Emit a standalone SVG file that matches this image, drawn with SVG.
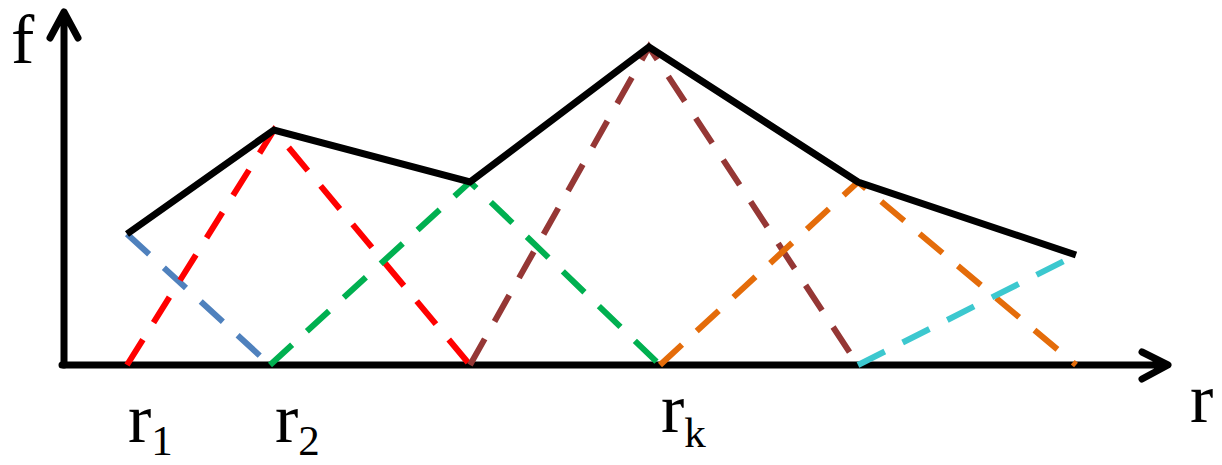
<svg xmlns="http://www.w3.org/2000/svg" width="1222" height="465" viewBox="0 0 1222 465">
<style>
.axis{stroke:#000;stroke-width:7;fill:none;stroke-linecap:round;stroke-linejoin:round}
.curve{stroke:#000;stroke-width:7;fill:none;stroke-linejoin:miter}
.d{stroke-width:6;fill:none;stroke-dasharray:30 20}
.lbl{font-family:"Liberation Serif","Times New Roman",serif;fill:#000}
.big{font-size:70px}
.sub{font-size:43px}
</style>
<rect width="1222" height="465" fill="#fff"/>
<g id="axes">
<path class="axis" d="M64,365 V12 M50,38 L64,12 L78,38"/>
<path class="axis" d="M62,365 H1166 M1142,352 L1168,365 L1142,379"/>
</g>
<g id="connectors">
<path class="d" stroke="#4F81BD" d="M127,234 L270,365"/>
<path class="d" stroke="#FF0000" d="M127,365 L274,130 L470,365"/>
<path class="d" stroke="#00B050" d="M270,365 L470,182 L660,365"/>
<path class="d" stroke="#953735" d="M470,365 L649,47 L858,365"/>
<path class="d" stroke="#E46C0A" d="M660,365 L858,182 L1076,365"/>
<path class="d" stroke="#3CC8CF" d="M858,365 L1076,255"/>
<path class="curve" d="M127,234 L274,130 L470,182 L649,47 L858,182 L1076,255"/>
</g>
<g id="labels">
<text class="lbl big" x="11" y="63">f</text>
<text class="lbl big" x="1190" y="422">r</text>
<text class="lbl" x="128" y="442"><tspan class="big">r</tspan><tspan class="sub" dy="13">1</tspan></text>
<text class="lbl" x="275" y="442"><tspan class="big">r</tspan><tspan class="sub" dy="13">2</tspan></text>
<text class="lbl" x="661" y="432"><tspan class="big">r</tspan><tspan class="sub" dy="15">k</tspan></text>
</g>
</svg>
